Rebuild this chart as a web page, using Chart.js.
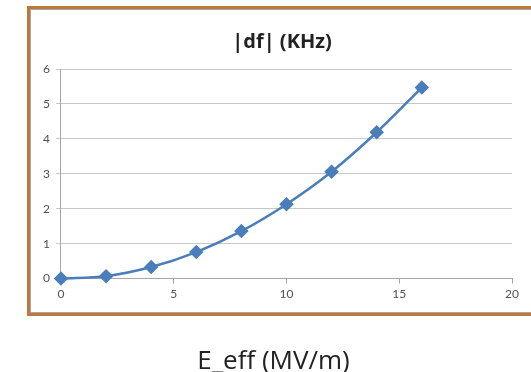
<!DOCTYPE html>
<html>
<head>
<meta charset="utf-8">
<script src="https://cdn.jsdelivr.net/npm/chart.js@4"></script>
<style>
  html, body { margin: 0; padding: 0; background: #fff; }
  #wrap { position: relative; width: 531px; height: 372px; overflow: hidden; }
  #frame {
    position: absolute; left: 27px; top: 6px; width: 540px; height: 304px;
    border: 3px solid #c0773b;
    box-shadow: inset 0 0 0 1px #a6a6a6;
  }
  canvas { position: absolute; left: 0; top: 0; }
</style>
</head>
<body>
<div id="wrap">
  <div id="frame"></div>
  <canvas id="chart" width="531" height="372"></canvas>
</div>
<script>
const fieldValues = [0, 2, 4, 6, 8, 10, 12, 14, 16];
const dfValues = [0.0, 0.07, 0.33, 0.76, 1.36, 2.13, 3.06, 4.19, 5.47];
const xTicks = [0, 5, 10, 15, 20];
const yTicks = [0, 1, 2, 3, 4, 5, 6];
const chartTitle = '|df| (KHz)';
const xTitle = 'E_eff (MV/m)';

const points = fieldValues.map((x, i) => ({ x: x, y: dfValues[i] }));

// both titles are placed by hand: the chart title sits a bit right of centre,
// the axis title sits below the frame
const titlesPlugin = {
    id: 'titles',
    afterDraw(chart) {
        const ctx = chart.ctx;
        ctx.save();
        ctx.fillStyle = '#222';
        ctx.textAlign = 'center';
        ctx.textBaseline = 'alphabetic';
        ctx.font = 'bold 20px "Open Sans"';
        ctx.fillText(chartTitle, 282, 48);
        ctx.font = '26px "Open Sans"';
        ctx.fillText(xTitle, 273.5, 369);
        ctx.restore();
    }
};

new Chart(document.getElementById('chart').getContext('2d'), {
    type: 'scatter',
    data: {
        datasets: [{
            label: '|df|',
            data: points,
            showLine: true,
            clip: false,
            borderColor: '#4a7ebb',
            backgroundColor: '#4a7ebb',
            borderWidth: 2.5,
            pointStyle: 'rectRot',
            pointRadius: 5.5,
            tension: 0.4,
            cubicInterpolationMode: 'monotone'
        }]
    },
    options: {
        responsive: false,
        animation: false,
        events: [],
        layout: {
            padding: { left: 37, right: 19, top: 69, bottom: 68 }
        },
        scales: {
            x: {
                type: 'linear',
                min: 0,
                max: 20,
                afterBuildTicks: (scale) => { scale.ticks = xTicks.map(v => ({ value: v })); },
                grid: {
                    drawOnChartArea: false,
                    color: '#a6a6a6',
                    tickLength: 5
                },
                border: { color: '#a6a6a6' },
                ticks: {
                    color: '#505050',
                    font: { family: 'Lato', size: 12 },
                    padding: 3,
                    maxRotation: 0
                }
            },
            y: {
                min: 0,
                max: 6,
                afterBuildTicks: (scale) => { scale.ticks = yTicks.map(v => ({ value: v })); },
                grid: {
                    color: '#c8c8c8',
                    tickLength: 5
                },
                border: { color: '#a6a6a6' },
                ticks: {
                    color: '#505050',
                    font: { family: 'Lato', size: 12 },
                    padding: 6
                }
            }
        },
        plugins: {
            legend: { display: false },
            tooltip: { enabled: false },
            title: { display: false }
        }
    },
    plugins: [titlesPlugin]
});
</script>
</body>
</html>
